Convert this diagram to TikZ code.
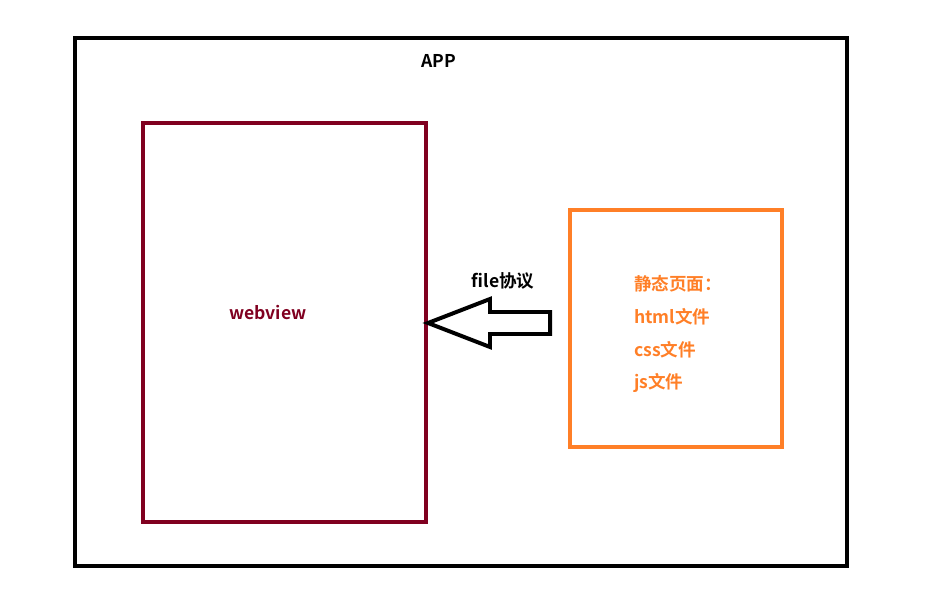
\documentclass[tikz,border=0pt]{standalone}
\usepackage{fontspec}
\setmainfont{Noto Sans CJK SC}[BoldFont={Noto Sans CJK SC Bold}]
\usetikzlibrary{calc}
\definecolor{wvred}{RGB}{128,0,32}
\definecolor{pageorange}{RGB}{255,127,39}

\begin{document}
\begin{tikzpicture}[x=0.03cm,y=-0.03cm,line join=miter]
		\tikzset{lbl/.style={font=\fontsize{15}{18}\selectfont\bfseries, inner sep=0pt}}
		\useasboundingbox (0,0) rectangle (932,594);
		
		\draw[line width=3.4pt] (75,38) rectangle (847,566);
		\node[lbl] (app) at (439,61) {APP};
		
		\draw[wvred, line width=3.4pt] (143,123) rectangle (426,522);
		\node[lbl, text=wvred] (webview) at (268,312) {webview};
		
		\draw[pageorange, line width=3.4pt] (570,210) rectangle (782,447);
		\node[lbl, text=pageorange, anchor=west] (page) at (634,284) {静态页面：};
		\node[lbl, text=pageorange, anchor=west] (html) at (634,317) {html文件};
		\node[lbl, text=pageorange, anchor=west] (css) at (634,350) {css文件};
		\node[lbl, text=pageorange, anchor=west] (js) at (634,383) {js文件};
		
		\draw[line width=3.4pt] (428,323) -- (490,299) -- (490,312) -- (550,312) -- (550,334) -- (490,334) -- (490,347) -- cycle;
		\node[lbl] (proto) at (503,281) {file协议};
		
	\end{tikzpicture}
\end{document}
